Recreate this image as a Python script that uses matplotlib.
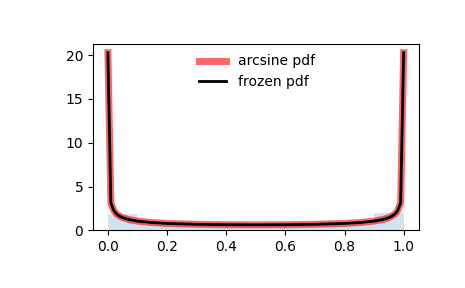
import matplotlib
matplotlib.use("Agg")
import matplotlib.pyplot as plt
import numpy as np

# curve points (x, pdf)
x_left = [0.000247, 0.010343, 0.020439, 0.030535, 0.040631, 0.050727, 0.070919,
          0.101207, 0.151687, 0.202167, 0.303127, 0.404087, 0.494951]
y_left = [20.268, 3.146, 2.250, 1.850, 1.612, 1.451, 1.240,
          1.055, 0.887, 0.793, 0.693, 0.649, 0.637]
x_vals = x_left + [round(1 - v, 6) for v in reversed(x_left)]
pdf_vals = y_left + list(reversed(y_left))

# histogram (density) of samples
hist_edges = [0.0, 0.1, 0.2, 0.3, 0.4, 0.5, 0.6, 0.7, 0.8, 0.9, 1.0]
hist_heights = [1.85, 0.92, 0.71, 0.66, 0.62, 0.67, 0.64, 0.75, 0.88, 1.95]

fig = plt.figure(figsize=(4.65, 2.88), dpi=100)
ax = fig.add_axes([0.2, 0.2, 0.7, 0.648])
ax.plot(x_vals, pdf_vals, 'r-', lw=5, alpha=0.6, label='arcsine pdf')
ax.plot(x_vals, pdf_vals, 'k-', lw=2, label='frozen pdf')
ax.stairs(hist_heights, hist_edges, fill=True, alpha=0.2, color='C0')
ax.legend(loc='upper center', bbox_to_anchor=(0.503, 1.01), frameon=False)
fig.savefig("out.png", dpi=100)
